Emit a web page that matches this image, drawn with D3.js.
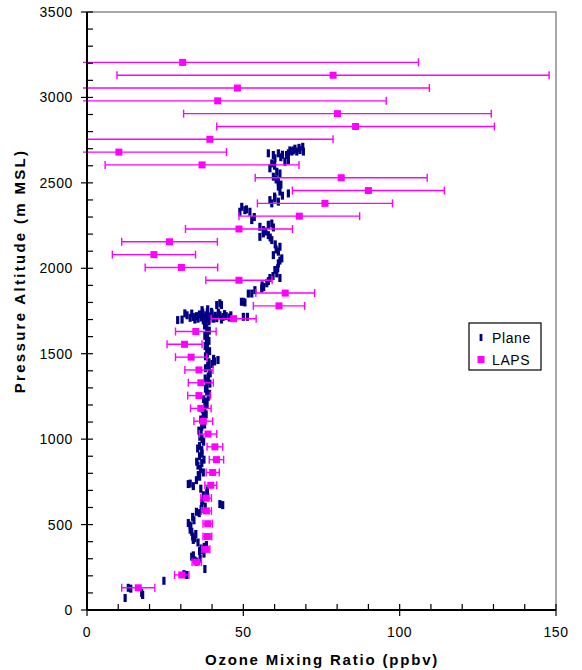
<!DOCTYPE html>
<html>
<head>
<meta charset="utf-8">
<script src="https://cdn.jsdelivr.net/npm/d3@7"></script>
<style>
  body { margin: 0; background: #fff; }
  svg { font-family: "Liberation Sans", Arial, sans-serif; }
</style>
</head>
<body>
<svg id="chart" width="582" height="670"></svg>
<script>
// LAPS profile: altitude (m MSL), ozone (ppbv), error bar half width (ppbv)
var lapsAlt = [3205, 3130, 3055, 2980, 2905, 2830, 2755, 2680, 2605, 2530, 2455, 2380, 2305, 2230,
  2155, 2080, 2005, 1930, 1855, 1780, 1705, 1630, 1555, 1480, 1405, 1330, 1255, 1180, 1105, 1030,
  955, 880, 805, 730, 655, 580, 505, 430, 355, 280, 205, 130];
var lapsOzone = [30.6, 78.7, 48.1, 41.8, 80.1, 85.9, 39.3, 10.2, 36.8, 81.3, 90.0, 76.1, 67.9, 48.6,
  26.4, 21.4, 30.2, 48.6, 63.4, 61.4, 46.9, 34.8, 31.2, 33.3, 35.8, 36.4, 35.8, 36.4, 37.2, 38.7,
  40.9, 41.4, 40.2, 39.6, 38.1, 38.2, 38.6, 38.5, 38.0, 35.1, 30.3, 16.4];
var lapsErr = [75.4, 69.1, 61.4, 53.9, 49.2, 44.4, 39.4, 34.4, 31.0, 27.5, 24.3, 21.6, 19.3, 17.1,
  15.3, 13.3, 11.6, 10.6, 9.4, 8.2, 7.2, 6.5, 5.6, 5.0, 4.5, 4.0, 3.6, 3.3, 3.0, 2.8,
  2.5, 2.3, 2.1, 1.9, 1.7, 1.6, 1.5, 1.4, 1.3, 1.5, 2.3, 5.3];

// aircraft samples: [ozone ppbv, altitude m]
var planeData = [
  [12.2,70],[13.2,130],[14,125],[17.8,88],[17.5,100],[24.6,171],[31.9,205],[31,210],[37.7,240],
  [35.1,283],[34.5,290],[36.2,300],[33.5,312],[34,320],[37.4,330],[36,345],[37,351],[36.5,360],
  [37.5,370],[38.2,380],[35.5,395],[34,410],[34.5,420],[33.8,430],[34.8,445],[33.5,458],[33,470],
  [33.2,485],[33,495],[32.4,509],[34.2,525],[33.8,545],[35.9,567],[35,575],[36.5,590],[37.8,605],
  [43.4,614],[42.5,620],[36.7,626],[37,640],[38.6,660],[37.2,672],[38.3,684],[38.5,700],[36.4,710],
  [34,725],[32.4,737],[33,740],[35,760],[36,780],[35.6,790],[37.2,805],[36.3,825],[35.5,845],
  [36.7,860],[35.1,868],[37.4,880],[36,900],[36.8,915],[36.7,936],[35.4,945],[36,960],[37.3,985],
  [36.8,1000],[36.1,1014],[36.5,1040],[35.8,1050],[36.7,1072],[37.6,1085],[37,1100],[36.4,1115],
  [37.2,1131],[38.1,1145],[37.5,1160],[36.9,1175],[37.7,1190],[38.4,1205],[38,1220],[37.3,1235],
  [38.8,1248],[39.2,1265],[38.3,1280],[37.9,1295],[38.3,1307],[39.3,1325],[38.5,1340],[37.8,1355],
  [38.8,1365],[39.4,1385],[39.1,1404],[37.9,1415],[38.6,1430],[40,1440],[39,1450],[40.8,1455],
  [41.9,1463],[40.5,1470],[37.9,1485],[38.5,1500],[39.2,1515],[38.3,1530],[37.8,1545],[38.5,1560],
  [39,1575],[38.2,1590],[37.7,1605],[38.5,1620],[39.1,1635],[38.3,1650],[37.6,1665],[38,1680],[39,1690],
  [29,1697],[30.4,1700],[31.3,1736],[32,1725],[33,1710],[33.5,1735],[34,1715],[34.5,1700],[35,1720],
  [35.5,1705],[36,1730],[36.5,1712],[37,1740],[37.2,1695],[37.5,1712],[38,1725],[38.2,1708],
  [38.5,1745],[39,1700],[39.5,1718],[39.8,1745],[40,1735],[40.5,1705],[41,1722],[41.5,1708],
  [42,1740],[42.5,1725],[43,1700],[43.5,1715],[44,1732],[44.5,1720],[45.5,1712],[46,1725],
  [50,1716],[51.3,1716],[36.8,1755],[38.6,1760],[41.5,1785],[43,1785],[42.5,1795],
  [49.4,1804],[50,1804],[50.5,1800],[51.6,1852],[52.7,1852],[53.7,1872],[55.9,1882],[56.5,1890],
  [56,1900],[57.5,1912],[58,1925],[58.5,1943],[61.7,1943],[59.5,1955],[60.7,1970],[60.1,1990],
  [61,2000],[61.2,2029],[61.7,2045],[62.3,2058],[59.6,2077],[61.2,2097],[60.5,2110],[61.7,2126],
  [60.2,2140],[59.1,2165],[58.6,2180],[55.3,2184],[58,2194],[56.4,2204],[57.2,2215],[56.4,2224],
  [59.6,2239],[55.3,2243],[58,2255],[59.1,2262],[52.7,2282],[53.5,2300],[52.1,2331],[48.9,2331],
  [50.5,2340],[51,2345],[49.5,2360],[59.1,2380],[61.2,2390],[58.5,2399],[60.1,2409],[60,2420],
  [62.5,2425],[64.4,2438],[61.7,2449],[61.2,2478],[62,2490],[61.2,2507],[60.5,2520],[59.6,2536],
  [61.7,2555],[60.7,2565],[58.5,2585],[60,2600],[59.1,2614],[63.3,2624],[64.4,2633],[60.1,2644],
  [62,2650],[59.6,2663],[63.8,2663],[62.5,2665],[58,2673],[61.2,2673],[64.4,2673],[65.5,2683],
  [67.1,2683],[69.2,2683],[64.9,2690],[66,2690],[68.1,2692],[66.5,2700],[67.8,2705],[69,2711]
];

var xTicks = [0, 50, 100, 150];
var yTicks = [0, 500, 1000, 1500, 2000, 2500, 3000, 3500];

var svg = d3.select("#chart");
var pLeft = 87, pRight = 556, pTop = 12, pBottom = 610;

var x = d3.scaleLinear().domain([0, 150]).range([pLeft, pRight]);
var y = d3.scaleLinear().domain([0, 3500]).range([pBottom, pTop]);

// plot frame (gray top/right)
svg.append("path")
  .attr("d", "M" + pLeft + "," + pTop + "H" + pRight + "V" + pBottom)
  .attr("fill", "none").attr("stroke", "#8c8c8c").attr("stroke-width", 1.5);

svg.append("defs").append("clipPath").attr("id", "plotclip")
  .append("rect").attr("x", pLeft - 4).attr("y", 0).attr("width", pRight - pLeft + 4).attr("height", pBottom);

// plane markers
svg.append("g").attr("class", "plane")
  .selectAll("rect").data(planeData).enter().append("rect")
  .attr("x", function(d) { return x(d[0]) - 1.6; })
  .attr("y", function(d) { return y(d[1]) - 4; })
  .attr("width", 3.2).attr("height", 8)
  .attr("fill", "#000080");

// LAPS error bars + markers
var laps = lapsAlt.map(function(a, i) { return { alt: a, oz: lapsOzone[i], err: lapsErr[i] }; });
var eb = svg.append("g").attr("clip-path", "url(#plotclip)")
  .attr("stroke", "#ff00ff").attr("stroke-width", 1.4);
eb.selectAll("line.bar").data(laps).enter().append("line")
  .attr("class", "bar")
  .attr("x1", function(d) { return x(d.oz - d.err); })
  .attr("x2", function(d) { return x(d.oz + d.err); })
  .attr("y1", function(d) { return y(d.alt); })
  .attr("y2", function(d) { return y(d.alt); });
[-1, 1].forEach(function(s) {
  eb.selectAll("line.cap" + (s + 1)).data(laps).enter().append("line")
    .attr("class", "cap" + (s + 1))
    .attr("x1", function(d) { return x(d.oz + s * d.err); })
    .attr("x2", function(d) { return x(d.oz + s * d.err); })
    .attr("y1", function(d) { return y(d.alt) - 4; })
    .attr("y2", function(d) { return y(d.alt) + 4; });
});
svg.append("g").selectAll("rect").data(laps).enter().append("rect")
  .attr("x", function(d) { return x(d.oz) - 3.5; })
  .attr("y", function(d) { return y(d.alt) - 3.5; })
  .attr("width", 7).attr("height", 7)
  .attr("fill", "#ff00ff");

// axes
var axes = svg.append("g").attr("stroke", "#000");
d3.range(0, 3501, 100).forEach(function(v) {
  var major = v % 500 == 0;
  axes.append("line").attr("x1", major ? pLeft - 6 : pLeft).attr("x2", pLeft + 6)
    .attr("y1", y(v)).attr("y2", y(v)).attr("stroke-width", 1.2);
});
d3.range(0, 151, 10).forEach(function(v) {
  var major = v % 50 == 0;
  axes.append("line").attr("x1", x(v)).attr("x2", x(v))
    .attr("y1", pBottom - 6).attr("y2", major ? pBottom + 6 : pBottom).attr("stroke-width", 1.2);
});
axes.append("line").attr("x1", pLeft).attr("x2", pLeft).attr("y1", pTop).attr("y2", pBottom).attr("stroke-width", 2);
axes.append("line").attr("x1", pLeft).attr("x2", pRight).attr("y1", pBottom).attr("y2", pBottom).attr("stroke-width", 2);

svg.append("g").selectAll("text").data(yTicks).enter().append("text")
  .attr("x", 73).attr("y", function(d) { return y(d) + 5; })
  .attr("text-anchor", "end").attr("font-size", 14).attr("letter-spacing", 0.6)
  .text(function(d) { return d; });
svg.append("g").selectAll("text").data(xTicks).enter().append("text")
  .attr("x", function(d) { return x(d); }).attr("y", 637)
  .attr("text-anchor", "middle").attr("font-size", 14).attr("letter-spacing", 0.6)
  .text(function(d) { return d; });

svg.append("text").attr("x", 322).attr("y", 665).attr("text-anchor", "middle")
  .attr("font-size", 15).attr("font-weight", "bold").attr("letter-spacing", 1.8)
  .text("Ozone Mixing Ratio (ppbv)");
svg.append("text").attr("transform", "translate(25,271) rotate(-90)").attr("text-anchor", "middle")
  .attr("font-size", 15).attr("font-weight", "bold").attr("letter-spacing", 2.3)
  .text("Pressure Altitude (m MSL)");

// legend
var lg = svg.append("g").attr("transform", "translate(469,323)");
lg.append("rect").attr("width", 72).attr("height", 47).attr("fill", "#fff").attr("stroke", "#000").attr("stroke-width", 1.2);
lg.append("rect").attr("x", 10.6).attr("y", 11).attr("width", 2.8).attr("height", 7).attr("fill", "#000080");
lg.append("text").attr("x", 23).attr("y", 20).attr("font-size", 14).attr("letter-spacing", 0.6).text("Plane");
lg.append("rect").attr("x", 8.5).attr("y", 33).attr("width", 7).attr("height", 7).attr("fill", "#ff00ff");
lg.append("text").attr("x", 23).attr("y", 42).attr("font-size", 14).attr("letter-spacing", 0.6).text("LAPS");
</script>
</body>
</html>
